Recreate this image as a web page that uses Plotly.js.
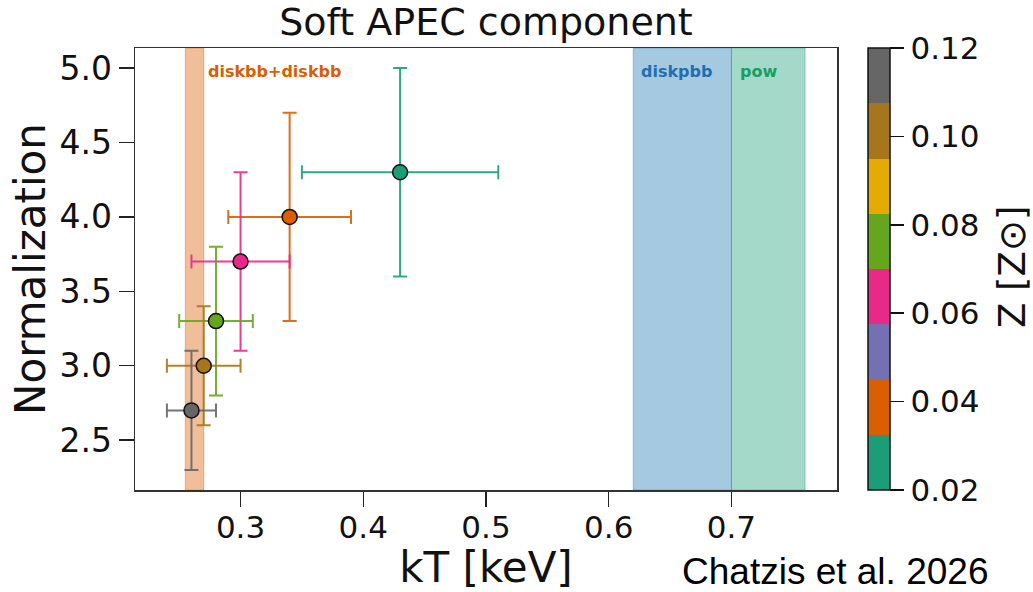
<!DOCTYPE html>
<html>
<head>
<meta charset="utf-8">
<script src="https://cdn.plot.ly/plotly-3.0.1.min.js"></script>
<style>html,body{margin:0;padding:0;background:#fff;}#chart{width:1033px;height:592px;}</style>
</head>
<body>
<div id="chart"></div>
<script>
// ---- data ----
const kT      = [0.43, 0.34, 0.30, 0.28, 0.27, 0.26];
const kTlo    = [0.35, 0.29, 0.26, 0.25, 0.24, 0.24];
const kThi    = [0.51, 0.39, 0.34, 0.31, 0.30, 0.28];
const norm    = [4.3, 4.0, 3.7, 3.3, 3.0, 2.7];
const normLo  = [3.6, 3.3, 3.1, 2.8, 2.6, 2.3];
const normHi  = [5.0, 4.7, 4.3, 3.8, 3.4, 3.1];
const Zmet    = [0.02, 0.04, 0.06, 0.08, 0.10, 0.12];
const cbTicks = [0.02, 0.04, 0.06, 0.08, 0.10, 0.12];
const xTicks  = [0.3, 0.4, 0.5, 0.6, 0.7];
const yTicks  = [2.5, 3.0, 3.5, 4.0, 4.5, 5.0];
const bandNames = ['diskbb+diskbb', 'diskpbb', 'pow'];
const bandLo    = [0.255, 0.62, 0.70];
const bandHi    = [0.27, 0.70, 0.76];

// ---- styling ----
const dark2 = ['#1b9e77','#d95f02','#7570b3','#e7298a','#66a61e','#e6ab02','#a6761d','#666666'];
const zmin = 0.02, zmax = 0.12;
const bandFill = ['rgba(217,95,2,0.4)','rgba(31,119,180,0.4)','rgba(27,158,119,0.4)'];
const bandText = ['#d95f02','#1f6fae','#14a05e'];
function zColor(z){
  let i = Math.floor((z - zmin) / (zmax - zmin) * dark2.length);
  i = Math.max(0, Math.min(dark2.length - 1, i));
  return dark2[i];
}
function hexA(h, a){
  const r=parseInt(h.slice(1,3),16), g=parseInt(h.slice(3,5),16), b=parseInt(h.slice(5,7),16);
  return `rgba(${r},${g},${b},${a})`;
}
const colorscale = [];
dark2.forEach((c,i)=>{ colorscale.push([i/dark2.length, c]); colorscale.push([(i+1)/dark2.length, c]); });

const traces = [];
kT.forEach((x,i)=>{
  const c = hexA(zColor(Zmet[i]), 0.9);
  traces.push({
    type:'scatter', mode:'markers', x:[x], y:[norm[i]],
    marker:{size:1, color:'rgba(0,0,0,0)'},
    error_x:{type:'data', symmetric:false, array:[kThi[i]-x], arrayminus:[x-kTlo[i]], color:c, thickness:2, width:7},
    error_y:{type:'data', symmetric:false, array:[normHi[i]-norm[i]], arrayminus:[norm[i]-normLo[i]], color:c, thickness:2, width:7},
    showlegend:false, hoverinfo:'skip'
  });
});
traces.push({
  type:'scatter', mode:'markers', x:kT, y:norm,
  marker:{
    size:15, color:Zmet, colorscale:colorscale, cmin:zmin, cmax:zmax,
    line:{color:'#111', width:1.5},
    showscale:true,
    colorbar:{
      thickness:22, thicknessmode:'pixels', len:1, lenmode:'fraction',
      x:1.044, xanchor:'left', xpad:0, y:0.5, yanchor:'middle', ypad:0,
      outlinewidth:1.5, outlinecolor:'#111',
      ticks:'outside', ticklen:14, tickwidth:1.5, tickcolor:'#111',
      tickvals:cbTicks, ticktext:cbTicks.map(v=>v.toFixed(2)),
      tickfont:{family:'DejaVu Sans', size:31, color:'#111'}
    }
  },
  showlegend:false
});

const shapes = bandLo.map((lo,i)=>({
  type:'rect', xref:'x', yref:'paper', x0:lo, x1:bandHi[i], y0:0, y1:1,
  fillcolor:bandFill[i], line:{color:bandFill[i], width:1}, layer:'below'
}));
const annotations = bandNames.map((t,i)=>({
  xref:'x', yref:'y', x:(i===0 ? bandHi[0]+0.002 : bandLo[i]+0.005), y:4.98,
  text:'<b>'+t+'</b>', showarrow:false, xanchor:'left', yanchor:'middle',
  font:{family:'DejaVu Sans', size:16, color:bandText[i]}
}));
annotations.push({
  xref:'paper', yref:'paper', x:(1012-135)/702, y:(490-267)/442,
  text:'Z [Z⊙]', textangle:-90, showarrow:false, xanchor:'center', yanchor:'middle',
  font:{family:'DejaVu Sans', size:37, color:'#111'}
});
annotations.push({
  xref:'paper', yref:'paper', x:(835-135)/702, y:-(571-490)/442,
  text:'Chatzis et al. 2026', showarrow:false, xanchor:'center', yanchor:'middle',
  font:{family:'Liberation Sans', size:37, color:'#000'}
});

const axisCommon = {
  showline:true, mirror:true, linecolor:'#333', linewidth:1.5,
  ticks:'outside', ticklen:15, tickwidth:1.5, tickcolor:'#222',
  showgrid:false, zeroline:false,
  tickfont:{family:'DejaVu Sans', size:31, color:'#111'}
};
const layout = {
  width:1033, height:592,
  margin:{l:135, r:196, t:48, b:102},
  paper_bgcolor:'#fff', plot_bgcolor:'#fff',
  title:{text:'Soft APEC component', x:0.5, xref:'paper', y:1-8/592, yref:'container', yanchor:'top',
         font:{family:'DejaVu Sans', size:38, color:'#111'}},
  xaxis:Object.assign({}, axisCommon, {range:[0.214,0.786], tickvals:xTicks, ticktext:xTicks.map(v=>v.toFixed(1)),
         ticklabelstandoff:-6,
         title:{text:'kT [keV]', standoff:12, font:{family:'DejaVu Sans', size:42, color:'#111'}}}),
  yaxis:Object.assign({}, axisCommon, {range:[2.165,5.135], tickvals:yTicks, ticktext:yTicks.map(v=>v.toFixed(1)),
         tickfont:{family:'DejaVu Sans', size:33, color:'#111'},
         title:{text:'Normalization', standoff:0, font:{family:'DejaVu Sans', size:42, color:'#111'}}}),
  shapes:shapes, annotations:annotations,
  showlegend:false
};
Plotly.newPlot('chart', traces, layout, {staticPlot:true, displayModeBar:false});
</script>
</body>
</html>
